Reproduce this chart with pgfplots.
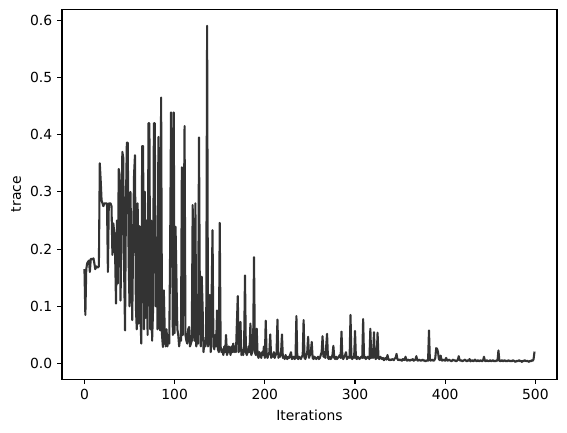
\documentclass[border=0pt]{standalone}
\usepackage{fontspec}
\setmainfont{DejaVu Sans}
\usepackage{pgfplots}
\pgfplotsset{compat=1.18}
\definecolor{tracecol}{RGB}{51,51,51}

\begin{document}
\begin{tikzpicture}
\useasboundingbox (-44.6pt,-38.2pt) rectangle (363.6pt,272.9pt);
\begin{axis}[
  scale only axis,
  width=356.4pt, height=266.2pt,
  xmin=-24.95, xmax=523.95,
  ymin=-0.027, ymax=0.619,
  xtick={0,100,200,300,400,500},
  ytick={0,0.1,0.2,0.3,0.4,0.5,0.6},
  yticklabel style={/pgf/number format/.cd,fixed,fixed zerofill,precision=1},
  /pgf/number format/assume math mode=true,
  tick pos=left,
  tick align=outside,
  major tick length=3.5pt,
  tick style={line width=0.8pt, black},
  axis line style={line width=0.8pt, black},
  ticklabel style={font=\fontsize{10}{12}\selectfont, text=black},
  label style={font=\fontsize{10}{12}\selectfont, text=black},
  xlabel={Iterations},
  ylabel={trace},
  x label style={at={(axis description cs:0.5,-0.0977)}, anchor=center},
  y label style={at={(axis description cs:-0.0926,0.5)}, anchor=center},
]
\addplot[tracecol, line width=1.5pt, line join=round, mark=none] coordinates {
(0,0.165)(1,0.085)(2,0.165)(3,0.175)(4,0.178)(5,0.18)(6,0.16)(7,0.183)(8,0.183)(9,0.182)
(10,0.184)(11,0.175)(12,0.165)(13,0.17)(14,0.168)(15,0.168)(16,0.17)(17,0.35)(18,0.32)(19,0.285)
(20,0.28)(21,0.275)(22,0.28)(23,0.28)(24,0.28)(25,0.28)(26,0.16)(27,0.28)(28,0.28)(29,0.28)
(30,0.275)(31,0.19)(32,0.245)(33,0.23)(34,0.19)(35,0.105)(36,0.25)(37,0.14)(38,0.34)(39,0.33)
(40,0.11)(41,0.22)(42,0.37)(43,0.36)(44,0.16)(45,0.058)(46,0.28)(47,0.386)(48,0.386)(49,0.18)
(50,0.1)(51,0.3)(52,0.2)(53,0.076)(54,0.22)(55,0.33)(56,0.364)(57,0.1)(58,0.06)(59,0.28)
(60,0.07)(61,0.24)(62,0.09)(63,0.035)(64,0.38)(65,0.38)(66,0.06)(67,0.3)(68,0.08)(69,0.25)
(70,0.05)(71,0.42)(72,0.42)(73,0.06)(74,0.25)(75,0.04)(76,0.09)(77,0.42)(78,0.42)(79,0.1)
(80,0.22)(81,0.06)(82,0.396)(83,0.07)(84,0.058)(85,0.465)(86,0.05)(87,0.029)(88,0.128)(89,0.06)
(90,0.03)(91,0.06)(92,0.03)(93,0.05)(94,0.035)(95,0.2)(96,0.439)(97,0.3)(98,0.05)(99,0.439)
(100,0.053)(101,0.239)(102,0.15)(103,0.06)(104,0.05)(105,0.03)(106,0.045)(107,0.04)(108,0.343)(109,0.05)
(110,0.2)(111,0.415)(112,0.05)(113,0.04)(114,0.035)(115,0.06)(116,0.064)(117,0.03)(118,0.035)(119,0.04)
(120,0.277)(121,0.06)(122,0.04)(123,0.28)(124,0.03)(125,0.04)(126,0.035)(127,0.395)(128,0.1)(129,0.03)
(130,0.152)(131,0.1)(132,0.02)(133,0.04)(134,0.03)(135,0.05)(136,0.59)(137,0.03)(138,0.04)(139,0.12)
(140,0.02)(141,0.117)(142,0.233)(143,0.03)(144,0.025)(145,0.05)(146,0.03)(147,0.093)(148,0.025)(149,0.02)
(150,0.246)(151,0.03)(152,0.02)(153,0.025)(154,0.015)(155,0.03)(156,0.02)(157,0.05)(158,0.015)(159,0.02)
(160,0.03)(161,0.025)(162,0.015)(163,0.03)(164,0.02)(165,0.035)(166,0.02)(167,0.03)(168,0.02)(169,0.07)
(170,0.118)(171,0.02)(172,0.03)(173,0.073)(174,0.015)(175,0.02)(176,0.015)(177,0.03)(178,0.154)(179,0.02)
(180,0.015)(181,0.02)(182,0.03)(183,0.02)(184,0.07)(185,0.015)(186,0.02)(187,0.03)(188,0.186)(189,0.02)
(190,0.015)(191,0.061)(192,0.015)(193,0.01)(194,0.02)(195,0.015)(196,0.01)(197,0.02)(198,0.015)(199,0.03)
(200,0.01)(201,0.075)(202,0.015)(203,0.01)(204,0.015)(205,0.02)(206,0.051)(207,0.01)(208,0.015)(209,0.012)
(210,0.02)(211,0.01)(212,0.015)(213,0.02)(214,0.077)(215,0.01)(216,0.015)(217,0.012)(218,0.02)(219,0.051)
(220,0.01)(221,0.012)(222,0.008)(223,0.015)(224,0.01)(225,0.008)(226,0.012)(227,0.01)(228,0.015)(229,0.02)
(230,0.008)(231,0.01)(232,0.012)(233,0.008)(234,0.01)(235,0.083)(236,0.01)(237,0.008)(238,0.012)(239,0.01)
(240,0.008)(241,0.012)(242,0.015)(243,0.076)(244,0.01)(245,0.008)(246,0.015)(247,0.02)(248,0.047)(249,0.01)
(250,0.015)(251,0.02)(252,0.038)(253,0.01)(254,0.008)(255,0.012)(256,0.01)(257,0.008)(258,0.01)(259,0.012)
(260,0.008)(261,0.01)(262,0.015)(263,0.02)(264,0.048)(265,0.012)(266,0.015)(267,0.01)(268,0.03)(269,0.052)
(270,0.01)(271,0.008)(272,0.012)(273,0.008)(274,0.01)(275,0.015)(276,0.031)(277,0.01)(278,0.008)(279,0.012)
(280,0.008)(281,0.01)(282,0.012)(283,0.015)(284,0.01)(285,0.056)(286,0.01)(287,0.008)(288,0.012)(289,0.015)
(290,0.02)(291,0.008)(292,0.01)(293,0.012)(294,0.01)(295,0.085)(296,0.01)(297,0.008)(298,0.012)(299,0.01)
(300,0.057)(301,0.01)(302,0.008)(303,0.012)(304,0.01)(305,0.008)(306,0.01)(307,0.012)(308,0.01)(309,0.078)
(310,0.01)(311,0.012)(312,0.008)(313,0.01)(314,0.012)(315,0.01)(316,0.008)(317,0.061)(318,0.01)(319,0.012)
(320,0.01)(321,0.055)(322,0.012)(323,0.008)(324,0.01)(325,0.054)(326,0.01)(327,0.008)(328,0.012)(329,0.01)
(330,0.008)(331,0.01)(332,0.006)(333,0.008)(334,0.01)(335,0.007)(336,0.015)(337,0.008)(338,0.006)(339,0.007)
(340,0.006)(341,0.008)(342,0.007)(343,0.006)(344,0.009)(345,0.01)(346,0.017)(347,0.008)(348,0.006)(349,0.007)
(350,0.006)(351,0.007)(352,0.005)(353,0.008)(354,0.006)(355,0.007)(356,0.012)(357,0.006)(358,0.005)(359,0.007)
(360,0.006)(361,0.005)(362,0.007)(363,0.006)(364,0.008)(365,0.005)(366,0.006)(367,0.007)(368,0.013)(369,0.006)
(370,0.005)(371,0.007)(372,0.006)(373,0.005)(374,0.006)(375,0.007)(376,0.005)(377,0.006)(378,0.004)(379,0.005)
(380,0.006)(381,0.005)(382,0.058)(383,0.006)(384,0.005)(385,0.007)(386,0.006)(387,0.005)(388,0.006)(389,0.01)
(390,0.027)(391,0.026)(392,0.02)(393,0.008)(394,0.006)(395,0.014)(396,0.006)(397,0.005)(398,0.007)(399,0.006)
(400,0.005)(401,0.01)(402,0.006)(403,0.005)(404,0.007)(405,0.006)(406,0.005)(407,0.004)(408,0.006)(409,0.007)
(410,0.005)(411,0.006)(412,0.004)(413,0.005)(414,0.007)(415,0.013)(416,0.006)(417,0.005)(418,0.006)(419,0.004)
(420,0.005)(421,0.006)(422,0.007)(423,0.005)(424,0.004)(425,0.006)(426,0.005)(427,0.008)(428,0.004)(429,0.005)
(430,0.006)(431,0.004)(432,0.005)(433,0.007)(434,0.005)(435,0.004)(436,0.006)(437,0.005)(438,0.004)(439,0.006)
(440,0.005)(441,0.004)(442,0.006)(443,0.012)(444,0.005)(445,0.004)(446,0.006)(447,0.005)(448,0.004)(449,0.005)
(450,0.006)(451,0.004)(452,0.005)(453,0.006)(454,0.004)(455,0.005)(456,0.004)(457,0.006)(458,0.005)(459,0.023)
(460,0.006)(461,0.004)(462,0.005)(463,0.006)(464,0.004)(465,0.005)(466,0.006)(467,0.004)(468,0.005)(469,0.004)
(470,0.006)(471,0.005)(472,0.004)(473,0.005)(474,0.004)(475,0.006)(476,0.005)(477,0.004)(478,0.003)(479,0.005)
(480,0.004)(481,0.005)(482,0.006)(483,0.004)(484,0.005)(485,0.003)(486,0.005)(487,0.004)(488,0.006)(489,0.005)
(490,0.004)(491,0.005)(492,0.004)(493,0.003)(494,0.005)(495,0.004)(496,0.006)(497,0.005)(498,0.008)(499,0.021)
};
\end{axis}
\end{tikzpicture}
\end{document}
